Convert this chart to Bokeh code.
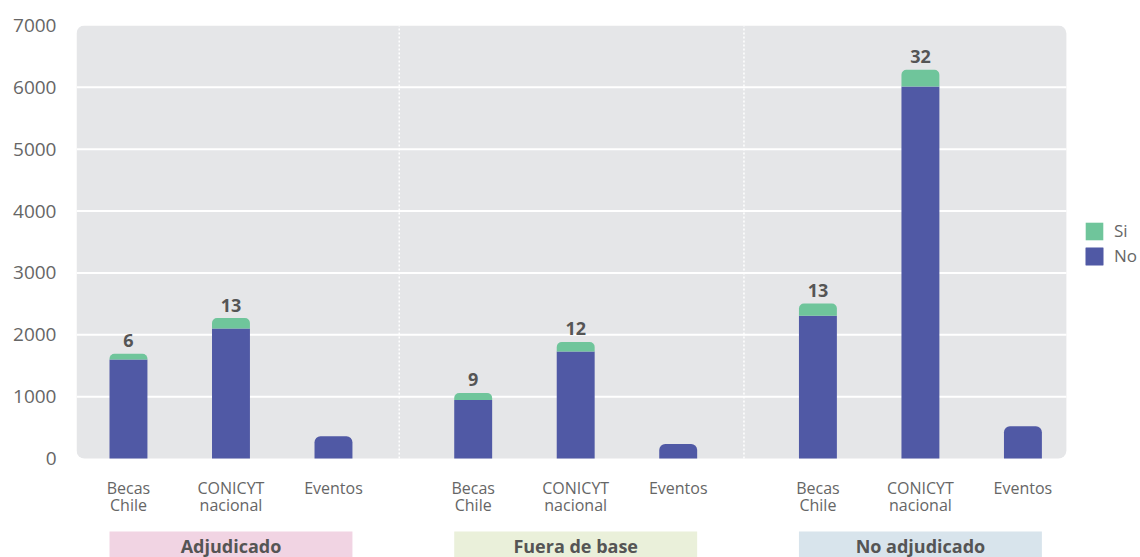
from bokeh.plotting import figure
from bokeh.models import (ColumnDataSource, Range1d, FixedTicker, Legend, LegendItem,
                          CDSView, BooleanFilter)
from bokeh.core.properties import value
from bokeh.embed import file_html
from bokeh.resources import INLINE

# ---- data -------------------------------------------------------------
groups = ["Adjudicado", "Fuera de base", "No adjudicado"]
cat_line1 = ["Becas", "CONICYT", "Eventos"]
cat_line2 = ["Chile", "nacional", ""]

# one value per bar, groups in order, three categories per group
no_values = [1600, 2100, 360, 945, 1730, 235, 2310, 6015, 520]
si_values = [95, 170, 0, 115, 155, 0, 195, 270, 0]
si_labels = ["6", "13", "", "9", "12", "", "13", "32", ""]

y_ticks = [0, 1000, 2000, 3000, 4000, 5000, 6000, 7000]

# ---- style ------------------------------------------------------------
BLUE = "#5059a5"
GREEN = "#6fc59b"
PANEL = "#e5e6e8"
group_colors = ["#f1d4e3", "#eaf0da", "#d8e4ec"]
TEXT = "#666666"
DARK = "#555555"
FONT = "Open Sans"

GROUP_PITCH = 3.363
BAR_WIDTH = 0.37
X_START, X_END = -0.507, 9.873
PANEL_RIGHT = 9.15
SEP_SHIFT = -0.04

n_cat = len(cat_line1)
xs = [g * GROUP_PITCH + i for g in range(len(groups)) for i in range(n_cat)]
totals = [n + s for n, s in zip(no_values, si_values)]

src = ColumnDataSource(dict(x=xs, no=no_values, si=si_values, total=totals, label=si_labels,
                            line1=cat_line1 * len(groups), line2=cat_line2 * len(groups)))

p = figure(width=1140, height=557, output_backend="svg", toolbar_location=None,
           x_range=Range1d(X_START, X_END), y_range=Range1d(-1600, y_ticks[-1]),
           x_axis_location=None, min_border_left=76, min_border_right=0,
           min_border_top=25, min_border_bottom=0, outline_line_color=None,
           background_fill_color="white", border_fill_color="white")
p.grid.visible = False

ax = p.yaxis[0]
ax.ticker = FixedTicker(ticks=y_ticks)
ax.axis_line_color = None
ax.major_tick_line_color = None
ax.minor_tick_line_color = None
ax.major_tick_out = 0
ax.major_tick_in = 0
ax.major_label_standoff = 20
ax.major_label_text_font = FONT
ax.major_label_text_font_size = "19px"
ax.major_label_text_color = TEXT

# grey plotting panel with rounded corners
p.quad(left=[X_START], right=[PANEL_RIGHT], bottom=[y_ticks[0]], top=[y_ticks[-1]],
       fill_color=PANEL, line_color=None, border_radius=8)

# horizontal grid lines inside the panel
inner = y_ticks[1:-1]
p.segment(x0=[X_START] * len(inner), x1=[PANEL_RIGHT] * len(inner), y0=inner, y1=inner,
          line_color="white", line_width=2)

# dotted separators between groups
seps = [(xs[g * n_cat + n_cat - 1] + xs[(g + 1) * n_cat]) / 2 + SEP_SHIFT
        for g in range(len(groups) - 1)]
p.segment(x0=seps, x1=seps, y0=[y_ticks[0]] * len(seps), y1=[y_ticks[-1]] * len(seps),
          line_color="white", line_width=1.5, line_dash="2 2")

# stacked bars: "No" at the bottom, "Si" on top
has_si = [s > 0 for s in si_values]
no_flat = p.vbar(x="x", width=BAR_WIDTH, bottom=0, top="no", source=src,
                 view=CDSView(filter=BooleanFilter(has_si)),
                 fill_color=BLUE, line_color=None)
no_round = p.vbar(x="x", width=BAR_WIDTH, bottom=0, top="no", source=src,
                  view=CDSView(filter=BooleanFilter([not h for h in has_si])),
                  fill_color=BLUE, line_color=None, border_radius=(6, 6, 0, 0))
si_bar = p.vbar(x="x", width=BAR_WIDTH, bottom="no", top="total", source=src,
                view=CDSView(filter=BooleanFilter(has_si)),
                fill_color=GREEN, line_color=None, border_radius=(5, 5, 0, 0))

# value labels above the stacks
p.text(x="x", y="total", text="label", source=src, text_align="center",
       text_baseline="alphabetic", y_offset=-13, text_font=value(FONT),
       text_font_style="bold", text_font_size="18px", text_color=DARK)

# category labels under each bar
p.text(x="x", y=-475, text="line1", source=src, text_align="center",
       text_baseline="alphabetic", text_font=value(FONT), text_font_size="16px",
       text_color=TEXT)
p.text(x="x", y=-753, text="line2", source=src, text_align="center",
       text_baseline="alphabetic", text_font=value(FONT), text_font_size="16px",
       text_color=TEXT)

# group boxes
g_left = [xs[g * n_cat] - BAR_WIDTH / 2 for g in range(len(groups))]
g_right = [xs[g * n_cat + n_cat - 1] + BAR_WIDTH / 2 for g in range(len(groups))]
g_mid = [(l + r) / 2 for l, r in zip(g_left, g_right)]
p.quad(left=g_left, right=g_right, bottom=[-1600] * len(groups), top=[-1180] * len(groups),
       fill_color=group_colors, line_color=None)
p.text(x=g_mid, y=[-1418] * len(groups), text=groups, text_align="center",
       text_baseline="alphabetic", text_font=value(FONT), text_font_style="bold",
       text_font_size="18px", text_color=DARK)

legend = Legend(items=[LegendItem(label="Si", renderers=[si_bar]),
                       LegendItem(label="No", renderers=[no_flat, no_round])],
                location=(1007, 290), orientation="vertical",
                glyph_width=22, glyph_height=22, label_height=18, spacing=2,
                label_standoff=9, padding=0, margin=0,
                border_line_color=None, background_fill_alpha=0,
                label_text_font=FONT, label_text_font_size="17px",
                label_text_color=TEXT)
p.add_layout(legend)

open("out.html", "w").write(file_html(p, INLINE))
